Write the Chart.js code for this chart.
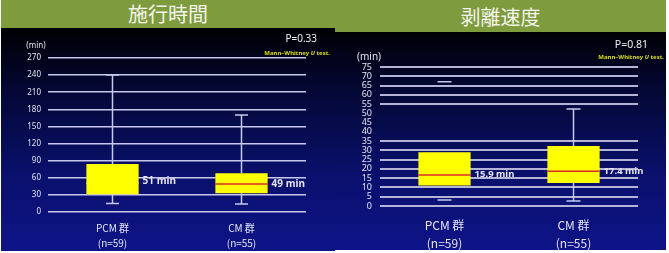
<!DOCTYPE html>
<html><head><meta charset="utf-8">
<script src="https://cdn.jsdelivr.net/npm/chart.js@4/dist/chart.umd.min.js"></script>
<style>
html,body{margin:0;padding:0;background:#fff;width:669px;height:253px;overflow:hidden;}
.panel{position:absolute;background:linear-gradient(to bottom,#000 0%,#000 10%,#040838 38%,#0a106c 70%,#0e1488 100%);}
.head{position:absolute;left:0;top:0;width:100%;background:#7e9c3e;color:#f4f4ec;text-align:center;font-family:"Noto Sans CJK JP",sans-serif;font-size:20px;}
canvas{position:absolute;left:0;}
</style></head>
<body>
<div class="panel" id="p1" style="left:1px;top:0;width:334px;height:251px;">
  <div class="head" style="height:28px;line-height:28px;">施行時間</div>
  <canvas id="c1" width="334" height="223" style="top:28px;width:334px;height:223px;"></canvas>
</div>
<div class="panel" id="p2" style="left:335px;top:0;width:331px;height:250px;">
  <div class="head" style="height:32px;line-height:34px;">剥離速度</div>
  <canvas id="c2" width="331" height="218" style="top:32px;width:331px;height:218px;"></canvas>
</div>
<script>
// ---- data ----
const categories = ['PCM 群', 'CM 群'];
const groupSizes = ['(n=59)', '(n=55)'];

const timeTicks = [0, 30, 60, 90, 120, 150, 180, 210, 240, 270];
const timeMin = [15, 14];
const timeQ1 = [31, 33];
const timeMedian = [51, 49];
const timeQ3 = [84, 68];
const timeMax = [240, 170];
const timeMedianLabels = ['51 min', '49 min'];
const timeP = 'P=0.33';

const speedTicks = [0, 5, 10, 15, 20, 25, 30, 35, 40, 45, 50, 55, 60, 65, 70, 75];
const speedMin = [3.3, 2.7];
const speedQ1 = [11, 12.4];
const speedMedian = [16.7, 18.7];
const speedQ3 = [29, 32.4];
const speedMax = [67, 52.3];
const speedMedianLabels = ['15.9 min', '17.4 min'];
const speedP = 'P=0.81';
const speedHiddenGrid = [40, 45, 50];

const testName = ['Mann–Whitney ', 'U', ' test.'];

// ---- plugin drawing whiskers, medians and annotations through the scales ----
const boxPlugin = {
  id: 'boxExtras',
  afterDatasetsDraw(chart, args, o) {
    const {ctx, chartArea, scales: {y}} = chart;
    const meta = chart.getDatasetMeta(0);
    ctx.save();
    meta.data.forEach((bar, i) => {
      const cx = bar.x, half = bar.width / 2;
      const pMax = y.getPixelForValue(o.max[i]);
      const pMin = y.getPixelForValue(o.min[i]);
      const pQ1 = y.getPixelForValue(o.q1[i]);
      const pQ3 = y.getPixelForValue(o.q3[i]);
      const pMed = y.getPixelForValue(o.median[i]);
      ctx.strokeStyle = o.whiskerColor;
      ctx.lineWidth = 1.5;
      ctx.beginPath();
      if (o.whiskerLines[i]) {
        ctx.moveTo(cx, pQ3); ctx.lineTo(cx, pMax);
        ctx.moveTo(cx, pQ1); ctx.lineTo(cx, pMin);
      }
      ctx.moveTo(cx - o.capHalf, pMax); ctx.lineTo(cx + o.capHalf, pMax);
      ctx.moveTo(cx - o.capHalf, pMin); ctx.lineTo(cx + o.capHalf, pMin);
      ctx.stroke();
      ctx.strokeStyle = o.medianColors[i];
      ctx.lineWidth = 1.5;
      ctx.beginPath();
      ctx.moveTo(cx - half, pMed); ctx.lineTo(cx + half, pMed);
      ctx.stroke();
      ctx.fillStyle = '#e4e4ee';
      ctx.font = 'bold ' + o.labelSize + 'px "Noto Sans", sans-serif';
      ctx.textAlign = 'left';
      ctx.textBaseline = 'middle';
      ctx.fillText(o.medianLabels[i], cx + half + 4, pMed + o.labelDy[i]);
    });
    // (min)
    ctx.fillStyle = '#e4e4ee';
    ctx.font = o.unitSize + 'px "Noto Sans", sans-serif';
    ctx.textAlign = 'center';
    ctx.textBaseline = 'middle';
    ctx.fillText('(min)', chartArea.left + o.unitPos[0], chartArea.top + o.unitPos[1]);
    // P value
    ctx.textAlign = 'right';
    ctx.font = o.pSize + 'px "Noto Sans", sans-serif';
    ctx.fillStyle = '#f0f0f0';
    ctx.fillText(o.p, chartArea.right + o.pPos[0], chartArea.top + o.pPos[1]);
    // test name with italic U
    ctx.fillStyle = '#dede10';
    const fN = 'bold 6px "Noto Sans", sans-serif';
    const fI = 'italic bold 6px "Noto Sans", sans-serif';
    ctx.font = fN; const w0 = ctx.measureText(testName[0]).width; const w2 = ctx.measureText(testName[2]).width;
    ctx.font = fI; const w1 = ctx.measureText(testName[1]).width;
    const xr = chartArea.right + o.testPos[0];
    const ty = chartArea.top + o.testPos[1];
    ctx.textAlign = 'left';
    let xs = xr - (w0 + w1 + w2);
    ctx.font = fN; ctx.fillText(testName[0], xs, ty); xs += w0;
    ctx.font = fI; ctx.fillText(testName[1], xs, ty); xs += w1;
    ctx.font = fN; ctx.fillText(testName[2], xs, ty);
    ctx.restore();
  }
};

function makeChart(id, cfg) {
  return new Chart(document.getElementById(id), {
    type: 'bar',
    data: {
      labels: categories.map((c, i) => [c, groupSizes[i]]),
      datasets: [{
        data: cfg.q1.map((v, i) => [v, cfg.q3[i]]),
        backgroundColor: '#ffff00',
        borderWidth: 0,
        borderSkipped: false,
        categoryPercentage: 1,
        barPercentage: 0.405
      }]
    },
    options: {
      responsive: false,
      animation: false,
      events: [],
      layout: {padding: {top: cfg.padTop, right: cfg.padRight, left: 0, bottom: 0}},
      plugins: {
        legend: {display: false},
        tooltip: {enabled: false},
        boxExtras: cfg.extras
      },
      scales: {
        x: {
          grid: {display: false, drawTicks: false},
          border: {display: false},
          ticks: {color: '#e4e4ee', padding: cfg.xPad, maxRotation: 0,
                  font: {family: '"Noto Sans CJK JP", sans-serif', size: cfg.xFont, lineHeight: cfg.xLine}},
          afterFit(s) { s.height = cfg.xHeight; }
        },
        y: {
          min: cfg.ticks[0], max: cfg.ticks[cfg.ticks.length - 1],
          afterBuildTicks(s) { s.ticks = cfg.ticks.map(v => ({value: v})); },
          grid: {drawTicks: false, lineWidth: cfg.gridWidth,
                 color: c => (cfg.hidden.includes(c.tick && c.tick.value) ? 'rgba(0,0,0,0)' : cfg.gridColor)},
          border: {display: false},
          ticks: {color: '#e4e4ee', padding: cfg.yPad, autoSkip: false,
                  font: {family: '"Noto Sans", sans-serif', size: cfg.yFont}},
          afterFit(s) { s.width = cfg.yWidth; }
        }
      }
    },
    plugins: [boxPlugin]
  });
}

makeChart('c1', {
  q1: timeQ1, q3: timeQ3, ticks: timeTicks, hidden: [],
  padTop: 30, padRight: 29, yWidth: 47, xHeight: 39, xPad: 9, xFont: 10, xLine: 1.5, yFont: 8, yPad: 7,
  gridColor: '#c8c8ee', gridWidth: 1.5,
  extras: {
    min: timeMin, q1: timeQ1, median: timeMedian, q3: timeQ3, max: timeMax,
    medianLabels: timeMedianLabels, labelDy: [-2, 0], labelSize: 10,
    whiskerLines: [true, true], medianColors: ['#ffff00', '#e02828'],
    whiskerColor: '#c8c8ee', capHalf: 6.5,
    unitSize: 8, unitPos: [-12, -12], p: timeP, pSize: 10, pPos: [11, -19], testPos: [24, -5]
  }
});

makeChart('c2', {
  q1: speedQ1, q3: speedQ3, ticks: speedTicks, hidden: speedHiddenGrid,
  padTop: 35, padRight: 28, yWidth: 45, xHeight: 44, xPad: 10, xFont: 12, xLine: 1.5, yFont: 9, yPad: 8,
  gridColor: '#b4b4d8', gridWidth: 2,
  extras: {
    min: speedMin, q1: speedQ1, median: speedMedian, q3: speedQ3, max: speedMax,
    medianLabels: speedMedianLabels, labelDy: [-1, 0], labelSize: 9.5,
    whiskerLines: [false, true], medianColors: ['#e02828', '#e02828'],
    whiskerColor: '#c8c8ee', capHalf: 7,
    unitSize: 10, unitPos: [-11, -10], p: speedP, pSize: 10.5, pPos: [10, -22], testPos: [26, -10]
  }
});
</script>
</body></html>
